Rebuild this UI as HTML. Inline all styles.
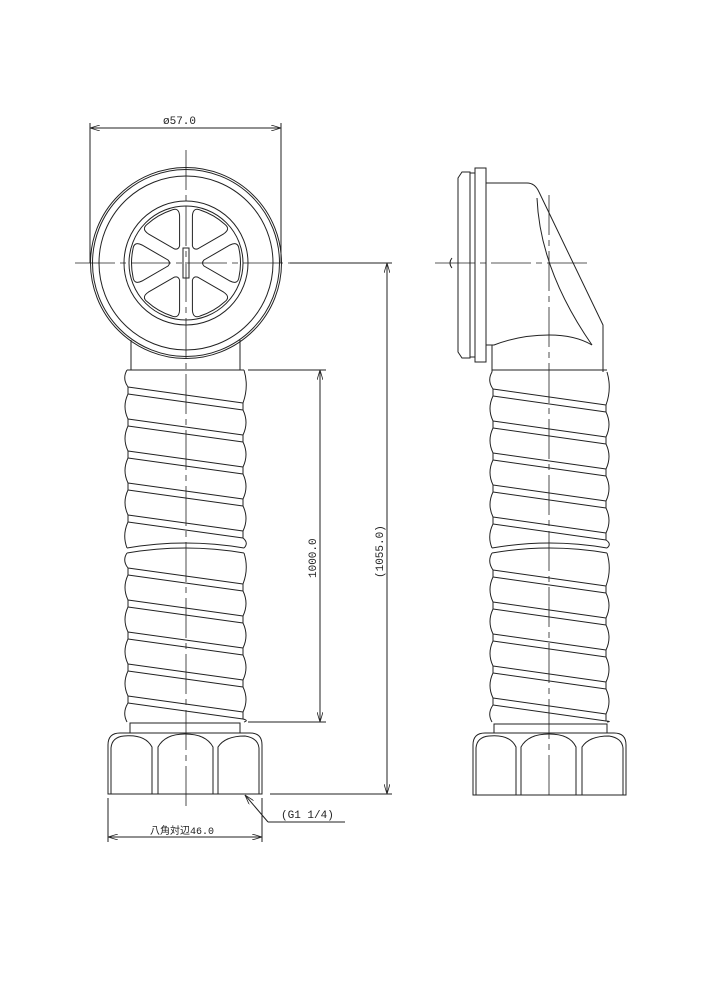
<!DOCTYPE html>
<html><head><meta charset="utf-8"><style>
html,body{margin:0;padding:0;background:#fff}
svg{display:block}
text{font-family:"Liberation Mono","Noto Sans CJK JP",monospace;font-size:11px;fill:#222}
</style></head><body>
<svg id="s" width="706" height="1000" viewBox="0 0 706 1000" xmlns="http://www.w3.org/2000/svg">
<defs>
<marker id="a" viewBox="0 0 10 6" refX="10" refY="3" markerWidth="10" markerHeight="6" orient="auto-start-reverse" markerUnits="userSpaceOnUse"><path d="M0,0 L10,3 L0,6" fill="none" stroke="#222" stroke-width="0.8"/></marker>
</defs>
<g fill="none" stroke="#222" stroke-width="1">
<circle cx="186" cy="263" r="95.5"/>
<circle cx="186" cy="263" r="93.5"/>
<circle cx="186" cy="263" r="87"/>
<circle cx="186" cy="263" r="62"/>
<circle cx="186" cy="263" r="57"/>
<rect x="183" y="248" width="6" height="30"/>
<path d="M131 340 V370 M240 340 V370"/>
<path d="M90 128 H281" marker-start="url(#a)" marker-end="url(#a)"/>
<path d="M90 123 V263 M281 123 V263"/>
<path d="M248 370 H326 M248 722 H326"/>
<path d="M320 370 V722" marker-start="url(#a)" marker-end="url(#a)"/>
<path d="M290 263 H392 M270 794 H392"/>
<path d="M387 263 V794" marker-start="url(#a)" marker-end="url(#a)"/>
<path d="M108 798 V842 M262 798 V842"/>
<path d="M108 837 H262" marker-start="url(#a)" marker-end="url(#a)"/>
<path d="M268 822 L245 795" marker-end="url(#a)"/>
<path d="M268 822 H345"/>
<rect x="130" y="723" width="110" height="10"/>
<path d="M108 794 V745 Q108 733 120 733 H250 Q262 733 262 745 V794 Z"/>
<path d="M111 794 V748 Q112 737 124 736 Q145 734 152 747 V794 M158 794 V747 Q165 734 185 734 Q206 734 213 747 V794 M218 794 V747 Q225 736 245 736 Q258 738 259 748 V794"/>
<path d="M458 178 L462 172 H470 V358 H462 L458 352 Z"/>
<path d="M470 173 H475 V357 H470"/>
<rect x="475" y="168" width="11" height="194"/>
<path d="M486 183 H527 Q535 183 539 192 L603 325 V372"/>
<path d="M492 345 V372"/>
<path d="M486 345 H494 Q520 335 549 335 Q575 335 592 345"/>
<path d="M537 198 Q540 270 592 345"/>
<path d="M452 258 Q448 263 452 268"/>
<rect x="494" y="724" width="113" height="9"/>
<path d="M473 795 V745 Q473 733 485 733 H614 Q626 733 626 745 V795 Z"/>
<path d="M476 795 V748 Q477 737 489 736 Q510 734 516 747 V795 M521 795 V747 Q528 734 549 734 Q570 734 576 747 V795 M582 795 V747 Q589 736 609 736 Q622 738 623 748 V795"/>
</g>
<g id="hose" fill="none" stroke="#222" stroke-width="1"></g>
<g fill="none" stroke="#222" stroke-width="0.8" stroke-dasharray="40 5 6 5">
<path d="M186 150 V810 M75 263 H296"/>
<path d="M435 263 H590 M549 195 V800"/>
</g>
<text x="163" y="124">ø57.0</text>
<text x="150" y="834" style="font-size:10px">八角対辺46.0</text>
<text x="281" y="818">(G1  1/4)</text>
<text transform="translate(316,578) rotate(-90)">1000.0</text>
<text transform="translate(383,578) rotate(-90)">(1055.0)</text>
</svg>
<script>
var g=document.getElementById('hose'),NS='http://www.w3.org/2000/svg';
function P(d){var p=document.createElementNS(NS,'path');p.setAttribute('d',d);g.appendChild(p);}
function hose(L,R,segs){
 segs.forEach(function(s){
  var y0=s[0],y1=s[1],first=s[2];
  var ys=[];for(var y=first;y<y1-14;y+=32)ys.push(y);
  ys.forEach(function(y){P('M'+(L+1)+' '+y+' L'+(R-1)+' '+(y+16));P('M'+(L+1)+' '+(y+7)+' L'+(R-1)+' '+(y+23));});
  var dl='M'+L+' '+y0, dr='M'+R+' '+y0, yy=y0;
  ys.forEach(function(y){dl+=' Q'+(L-5)+' '+((yy+y)/2)+' '+(L+1)+' '+y+' L'+(L+1)+' '+(y+7);yy=y+7;});
  dl+=' Q'+(L-5)+' '+((yy+y1)/2)+' '+L+' '+y1;
  yy=y0;
  ys.forEach(function(y){var a=y+16;dr+=' Q'+(R+5)+' '+((yy+a)/2)+' '+(R-1)+' '+a+' L'+(R-1)+' '+(a+7);yy=a+7;});
  dr+=' Q'+(R+5)+' '+((yy+y1)/2)+' '+R+' '+y1;
  P(dl);P(dr);
 });
 P('M'+L+' 548 Q'+((L+R)/2)+' 538 '+R+' 548');
 P('M'+L+' 553 Q'+((L+R)/2)+' 543 '+R+' 553');
 P('M'+L+' 370 H'+R);
}
hose(127,244,[[370,548,387],[553,722,568]]);
hose(492,607,[[372,548,389],[553,722,570]]);
var sg=document.createElementNS(NS,'g');sg.setAttribute('fill','none');sg.setAttribute('stroke','#222');document.getElementById('s').appendChild(sg);
for(var i=0;i<6;i++){var p=document.createElementNS(NS,'path');
p.setAttribute('d','M18 -3 Q15 0 18 3 L44 18 Q52 22 53 14 Q56 0 53 -14 Q52 -22 44 -18 Z');
p.setAttribute('transform','translate(186 263) rotate('+(i*60)+')');sg.appendChild(p);}
</script>
</body></html>
